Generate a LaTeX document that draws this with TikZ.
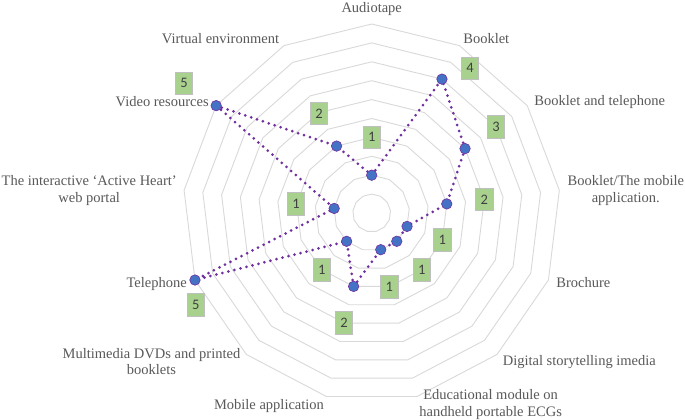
\documentclass[tikz,border=0pt]{standalone}
\usepackage{fontspec}
\setmainfont{Liberation Serif}
\newfontfamily\numfont{Carlito}
\definecolor{gridc}{HTML}{D9D9D9}
\definecolor{txtc}{HTML}{595959}
\definecolor{lineC}{HTML}{7030A0}
\definecolor{markC}{HTML}{4472C4}
\definecolor{boxC}{HTML}{A9D18E}
\definecolor{boxB}{HTML}{BFBFBF}
\definecolor{numC}{HTML}{404040}
\begin{document}
\begin{tikzpicture}[x=1pt,y=1pt,
 gridline/.style={draw=gridc, line width=0.9pt},
 catlabel/.style={text=txtc, font=\fontsize{14.5}{16.5}\selectfont, align=center, inner sep=0pt},
 dotline/.style={draw=lineC, line width=3pt, line cap=round, dash pattern=on 0pt off 6.2pt},
 marker/.style={circle, fill=markC, draw=lineC, line width=0.6pt, minimum size=10.5pt, inner sep=0pt},
 vlabel/.style={fill=boxC, draw=boxB, line width=0.8pt, minimum width=17.5pt, minimum height=22.5pt, inner sep=0pt, text=numC, font=\numfont\fontsize{14.5}{16}\selectfont}]
\useasboundingbox (0,0) rectangle (685,-420);
\fill[white] (0,0) rectangle (685,-420);
\begin{scope}[shift={(371.7,-213)}]
  \foreach \k in {1,...,10}{
    \pgfmathsetmacro\r{\k*18.9}
    \draw[gridline] (90:\r pt) \foreach \i in {1,...,12}{ -- ({90-\i*360/13}:\r pt)} -- cycle;
  }
  \foreach \v [count=\i from 0] in {1,4,3,2,1,1,1,2,1,5,1,5,2}{
    \pgfmathsetmacro\rr{\v*37.8}
    \coordinate (p\i) at ({90-\i*360/13}:\rr pt);
  }
  \draw[dotline] (p0) \foreach \i in {1,...,12}{ -- (p\i)} -- cycle;
  \foreach \i in {0,...,12}{ \node[marker] (m\i) at (p\i) {}; }
\end{scope}
% value labels
\node[vlabel] (v0) at (371.7,-137.3) {1};
\node[vlabel] (v1) at (470,-68.3) {4};
\node[vlabel] (v2) at (496,-126.7) {3};
\node[vlabel] (v3) at (484.3,-199.3) {2};
\node[vlabel] (v4) at (442.3,-240) {1};
\node[vlabel] (v5) at (421.7,-270) {1};
\node[vlabel] (v6) at (389.3,-286.7) {1};
\node[vlabel] (v7) at (344,-322.7) {2};
\node[vlabel] (v8) at (321.7,-270) {1};
\node[vlabel] (v9) at (195.7,-305) {5};
\node[vlabel] (v10) at (296,-204) {1};
\node[vlabel] (v11) at (184,-83.3) {5};
\node[vlabel] (v12) at (319,-113.3) {2};
% category labels
\node[catlabel, anchor=base] (c0) at (371.7,-12.5) {Audiotape};
\node[catlabel, anchor=base] (c1) at (486.3,-43.3) {Booklet};
\node[catlabel, anchor=base] (c2) at (599.7,-105.7) {Booklet and telephone};
\node[catlabel] (c3) at (625.8,-190.3) {Booklet/The mobile\\application.};
\node[catlabel, anchor=base] (c4) at (583.3,-287.3) {Brochure};
\node[catlabel, anchor=base] (c5) at (579.3,-365.3) {Digital storytelling imedia};
\node[catlabel] (c6) at (490.6,-404.5) {Educational module on\\handheld portable ECGs};
\node[catlabel, anchor=base] (c7) at (269,-409) {Mobile application};
\node[catlabel] (c8) at (151.5,-361.3) {Multimedia DVDs and printed\\booklets};
\node[catlabel, anchor=base] (c9) at (156.7,-287.3) {Telephone};
\node[catlabel] (c10) at (89.2,-190.7) {The interactive ‘Active Heart’\\web portal};
\node[catlabel, anchor=base] (c11) at (162.2,-106) {Video resources};
\node[catlabel, anchor=base] (c12) at (220.5,-43.3) {Virtual environment};
\end{tikzpicture}
\end{document}
